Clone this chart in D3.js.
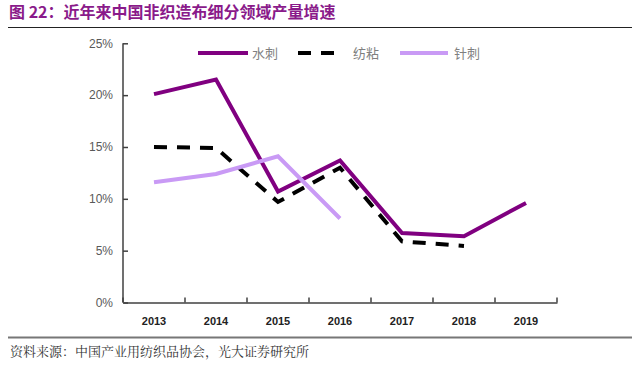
<!DOCTYPE html>
<html><head><meta charset="utf-8">
<script src="https://cdn.jsdelivr.net/npm/d3@7"></script>
<style>body{margin:0;background:#fff}svg{display:block}</style>
</head><body>
<svg id="c" width="640" height="369"></svg>
<script>
const years = ["2013","2014","2015","2016","2017","2018","2019"];
const shuici = [20.1, 21.5, 10.7, 13.7, 6.7, 6.4, 9.6];
const fangnian = [15.0, 14.9, 9.7, 13.0, 5.9, 5.45, null];
const zhenci = [11.6, 12.4, 14.1, 8.1, null, null, null];
const yTicks = [0, 5, 10, 15, 20, 25];
const seriesNames = ["水刺", "纺粘", "针刺"];

const svg = d3.select("#c");
const font = "'Noto Sans CJK SC','Noto Sans',sans-serif";

// title
svg.append("text").attr("x", 9).attr("y", 18).attr("fill", "#8a1a8a")
  .attr("font-family", font).attr("font-weight", "bold").attr("font-size", 16)
  .text("图 22：近年来中国非织造布细分领域产量增速");
svg.append("line").attr("x1", 8).attr("x2", 632).attr("y1", 27.5).attr("y2", 27.5)
  .attr("stroke", "#222").attr("stroke-width", 1);
svg.append("line").attr("x1", 8).attr("x2", 632).attr("y1", 337.5).attr("y2", 337.5)
  .attr("stroke", "#777").attr("stroke-width", 2);
svg.append("text").attr("x", 10).attr("y", 356).attr("fill", "#333")
  .attr("font-family", "'Noto Serif CJK SC','Noto Sans CJK SC',serif").attr("font-size", 13)
  .text("资料来源：中国产业用纺织品协会，光大证券研究所");

const x = d3.scaleBand().domain(years).range([123, 557]);
const y = d3.scaleLinear().domain([0, 25]).range([302.5, 43.3]);

// y axis
const ya = svg.append("g").attr("transform", "translate(123,0)")
  .call(d3.axisRight(y).tickValues(yTicks).tickSize(5).tickFormat(d => d + "%"));
ya.select(".domain").attr("stroke", "#404040").attr("stroke-width", 1.5).attr("d", `M0,${y(25)}H0V${y(0)}`);
ya.selectAll(".tick line").attr("stroke", "#404040").attr("stroke-width", 1.5);
ya.selectAll(".tick text").attr("x", -10).attr("text-anchor", "end").attr("fill", "#595959")
  .attr("font-family", "'Liberation Sans',Arial,sans-serif").attr("font-size", 12);

// x axis
const xa = svg.append("g").attr("transform", `translate(0,${y(0)})`)
  .call(d3.axisBottom(x).tickSize(0).tickPadding(15));
xa.select(".domain").attr("stroke", "#404040").attr("stroke-width", 1.5);
xa.selectAll(".tick text").attr("fill", "#222").attr("font-weight", "bold")
  .attr("font-family", "'Liberation Sans',Arial,sans-serif").attr("font-size", 11);
const edges = years.map(d => x(d)).concat([x.range()[1]]);
xa.selectAll(".xt").data(edges).enter().append("line").attr("class", "xt")
  .attr("x1", d => d).attr("x2", d => d).attr("y1", 0).attr("y2", -5)
  .attr("stroke", "#404040").attr("stroke-width", 1.5);

const line = d3.line().defined(d => d.v != null)
  .x(d => x(d.year) + x.bandwidth() / 2).y(d => y(d.v));
const mk = arr => years.map((yr, i) => ({year: yr, v: arr[i]}));

const styles = [
  {data: shuici, color: "#800080", dash: null},
  {data: fangnian, color: "#000000", dash: "13,10"},
  {data: zhenci, color: "#c99af5", dash: null}
];
styles.forEach(s => {
  svg.append("path").datum(mk(s.data)).attr("d", line).attr("fill", "none")
    .attr("stroke", s.color).attr("stroke-width", 4).attr("stroke-linejoin", "miter")
    .attr("stroke-dasharray", s.dash);
});

// legend
const legX = [[198, 248, 252], [298, 344, 353], [400, 448, 454]];
styles.forEach((s, i) => {
  const [a, b, t] = legX[i];
  svg.append("line").attr("x1", a).attr("x2", b).attr("y1", 53).attr("y2", 53)
    .attr("stroke", s.color).attr("stroke-width", 4).attr("stroke-dasharray", s.dash);
  svg.append("text").attr("x", t).attr("y", 58).attr("fill", "#7f7f7f")
    .attr("font-family", font).attr("font-size", 13).text(seriesNames[i]);
});
</script>
</body></html>
